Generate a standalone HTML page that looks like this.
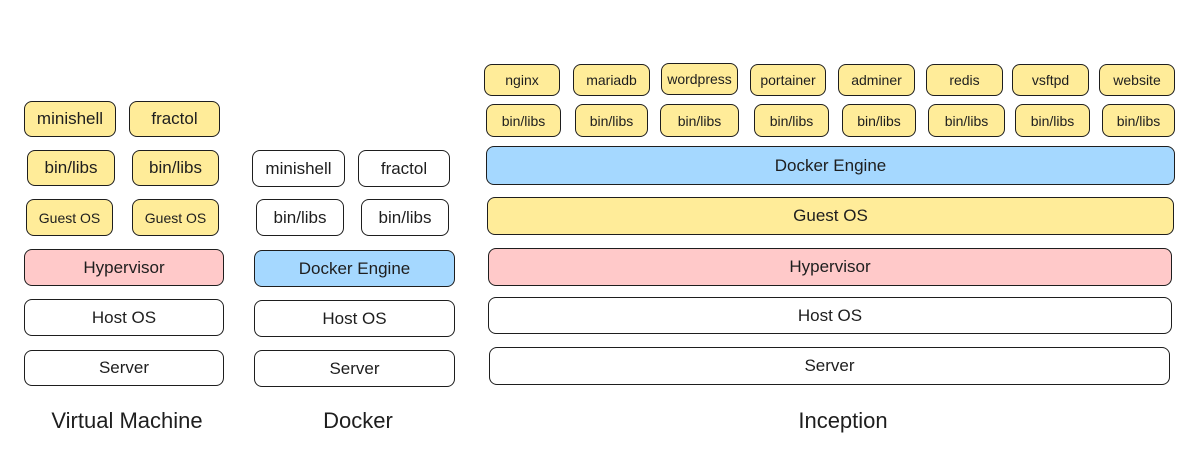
<!DOCTYPE html>
<html><head><meta charset="utf-8"><style>
body{margin:0;width:1204px;height:462px;background:#fff;position:relative;overflow:hidden;font-family:"Liberation Sans",sans-serif;color:#1e1e1e}
.b{position:absolute;box-sizing:border-box;border:1.8px solid #1e1e1e;border-radius:8px;display:flex;align-items:center;justify-content:center;font-size:17px;background:#fff}
.y{background:#ffec99}.p{background:#ffc9c9}.u{background:#a5d8ff}
.s{font-size:14px}
.t{position:absolute;font-size:22px;transform:translateX(-50%);white-space:nowrap}
</style></head><body>
<div class="b y" style="left:24px;top:101px;width:92px;height:36px">minishell</div>
<div class="b y" style="left:129px;top:101px;width:91px;height:36px">fractol</div>
<div class="b y" style="left:27px;top:150px;width:88px;height:36px">bin/libs</div>
<div class="b y" style="left:132px;top:150px;width:87px;height:36px">bin/libs</div>
<div class="b y s" style="left:26px;top:199px;width:87px;height:37px">Guest OS</div>
<div class="b y s" style="left:132px;top:199px;width:87px;height:37px">Guest OS</div>
<div class="b p" style="left:24px;top:249px;width:200px;height:37px">Hypervisor</div>
<div class="b" style="left:24px;top:299px;width:200px;height:37px">Host OS</div>
<div class="b" style="left:24px;top:350px;width:200px;height:36px">Server</div>
<div class="t" style="left:127px;top:408px">Virtual Machine</div>

<div class="b" style="left:252px;top:150px;width:93px;height:37px">minishell</div>
<div class="b" style="left:358px;top:150px;width:92px;height:37px">fractol</div>
<div class="b" style="left:256px;top:199px;width:88px;height:37px">bin/libs</div>
<div class="b" style="left:361px;top:199px;width:88px;height:37px">bin/libs</div>
<div class="b u" style="left:254px;top:250px;width:201px;height:37px">Docker Engine</div>
<div class="b" style="left:254px;top:300px;width:201px;height:37px">Host OS</div>
<div class="b" style="left:254px;top:350px;width:201px;height:37px">Server</div>
<div class="t" style="left:358px;top:408px">Docker</div>

<div class="b y s" style="left:484px;top:64px;width:76px;height:32px">nginx</div>
<div class="b y s" style="left:573px;top:64px;width:77px;height:32px">mariadb</div>
<div class="b y s" style="left:661px;top:63px;width:77px;height:32px">wordpress</div>
<div class="b y s" style="left:750px;top:64px;width:76px;height:32px">portainer</div>
<div class="b y s" style="left:838px;top:64px;width:77px;height:32px">adminer</div>
<div class="b y s" style="left:926px;top:64px;width:77px;height:32px">redis</div>
<div class="b y s" style="left:1012px;top:64px;width:77px;height:32px">vsftpd</div>
<div class="b y s" style="left:1099px;top:64px;width:76px;height:32px">website</div>
<div class="b y s" style="left:486px;top:104px;width:75px;height:33px">bin/libs</div>
<div class="b y s" style="left:575px;top:104px;width:73px;height:33px">bin/libs</div>
<div class="b y s" style="left:660px;top:104px;width:79px;height:33px">bin/libs</div>
<div class="b y s" style="left:754px;top:104px;width:75px;height:33px">bin/libs</div>
<div class="b y s" style="left:842px;top:104px;width:74px;height:33px">bin/libs</div>
<div class="b y s" style="left:928px;top:104px;width:77px;height:33px">bin/libs</div>
<div class="b y s" style="left:1015px;top:104px;width:75px;height:33px">bin/libs</div>
<div class="b y s" style="left:1102px;top:104px;width:73px;height:33px">bin/libs</div>
<div class="b u" style="left:486px;top:146px;width:689px;height:39px">Docker Engine</div>
<div class="b y" style="left:487px;top:197px;width:687px;height:38px">Guest OS</div>
<div class="b p" style="left:488px;top:248px;width:684px;height:38px">Hypervisor</div>
<div class="b" style="left:488px;top:297px;width:684px;height:37px">Host OS</div>
<div class="b" style="left:489px;top:347px;width:681px;height:38px">Server</div>
<div class="t" style="left:843px;top:408px">Inception</div>
</body></html>
